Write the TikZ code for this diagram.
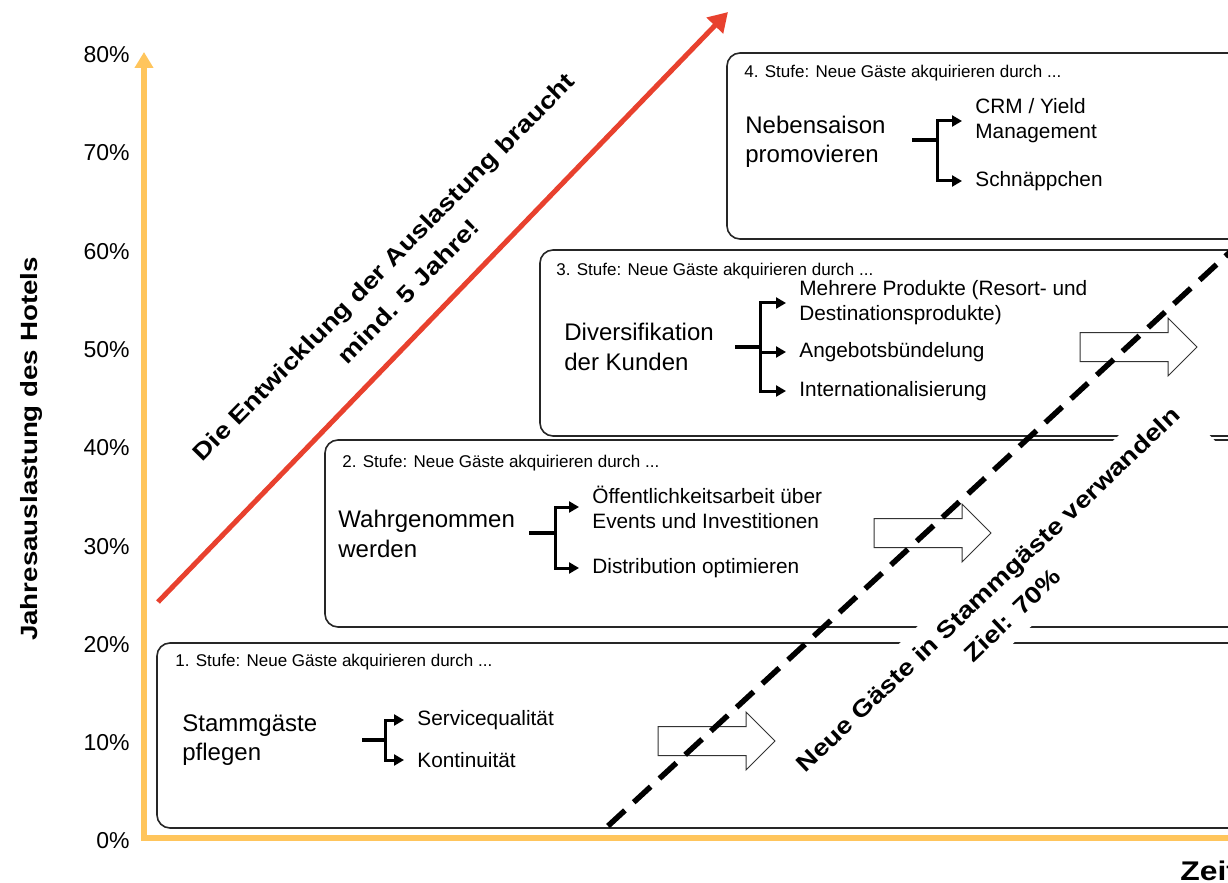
\documentclass[tikz,border=0pt]{standalone}
\usepackage{fontspec}
\setmainfont{Liberation Sans}
\newfontfamily\widebold{Liberation Sans}[FakeStretch=1.18]
\usetikzlibrary{arrows.meta}
\definecolor{axisorange}{HTML}{FFC55C}
\definecolor{trendred}{HTML}{E8412E}
\pgfdeclarelayer{bg}
\pgfsetlayers{bg,main}
\tikzset{
    stage/.style={draw=black!85, line width=0.8pt, rounded corners=6.5pt},
    stagetitle/.style={anchor=west, inner sep=0pt, font=\fontsize{8.5}{10}\selectfont},
    lead/.style={anchor=west, inner sep=0pt, align=left, font=\fontsize{12}{14.75}\selectfont},
    entry/.style={anchor=west, inner xsep=6.5pt, inner ysep=0pt, align=left, font=\fontsize{10.4}{12.5}\selectfont},
    trunk/.style={line width=1.6pt},
    branch/.style={line width=1.5pt, -{Triangle[length=5pt,width=5.5pt]}},
    blockarrow/.style={draw=black!80, line width=0.5pt, fill=white},
    pct/.style={anchor=east, inner sep=0pt, font=\fontsize{11.5}{13}\selectfont},
    bigbold/.style={inner sep=0pt, align=center, font=\widebold\bfseries\fontsize{11.75}{17.5}\selectfont}
}

\begin{document}
\begin{tikzpicture}[x=0.5pt, y=-0.5pt]
    \useasboundingbox (0,0) rectangle (1228,883);
    \clip (0,0) rectangle (1228,883);

    % axes
    \coordinate (o) at (144,838);
    \coordinate (ytop) at (144,52);
    \coordinate (xend) at (1244,838);
    \draw [axisorange, line width=2.9pt, {Triangle[length=8pt,width=9pt]}-{Triangle[length=8pt,width=9pt]}] (ytop) -- (o) -- (xend);
    \foreach \v [count=\i from 0] in {0,10,...,80}
        \node (p\v) [pct] at (130,841-98.3*\i) {\v\%};
    \node (ytitle) [bigbold, rotate=90] at (31,449) {Jahresauslastung des Hotels};
    \node (zeit) [bigbold, anchor=base west, font=\widebold\bfseries\fontsize{13.5}{16}\selectfont] at (1180,880) {Zeit};

    \begin{pgfonlayer}{bg}
        \draw [stage] (157,643) rectangle (1270,828);
        \draw [stage] (325,440) rectangle (1270,627);
        \draw [stage] (540,250) rectangle (1270,436);
        \draw [stage] (727,53) rectangle (1270,239);
    \end{pgfonlayer}

    % stage 1
    \node (h1) [stagetitle] at (175,662) {1. Stufe: Neue Gäste akquirieren durch ...};
    \node (m1) [lead] at (182,740) {Stammgäste\\pflegen};
    \node (s1a) [entry] at (404,720) {Servicequalität};
    \node (s1b) [entry] at (404,760) {Kontinuität};
    \coordinate (b1) at (362,740);
    \coordinate (j1) at (385,740);
    \draw [trunk] (b1) -- (j1);
    \draw [branch] (j1) |- (s1a.west);
    \draw [branch] (j1) |- (s1b.west);

    % stage 2
    \node (h2) [stagetitle] at (342,463) {2. Stufe: Neue Gäste akquirieren durch ...};
    \node (m2) [lead] at (338,534) {Wahrgenommen\\werden};
    \node (s2a) [entry] at (579,507) {Öffentlichkeitsarbeit über\\Events und Investitionen};
    \node (s2b) [entry] at (579,568) {Distribution optimieren};
    \coordinate (b2) at (529,533);
    \coordinate (j2) at (555,533);
    \draw [trunk] (b2) -- (j2);
    \draw [branch] (j2) |- (s2a.west);
    \draw [branch] (j2) |- (s2b.west);

    % stage 3
    \node (h3) [stagetitle] at (556,271) {3. Stufe: Neue Gäste akquirieren durch ...};
    \node (m3) [lead] at (564,347) {Diversifikation\\der Kunden};
    \node (s3a) [entry] at (786,303) {Mehrere Produkte (Resort- und\\Destinationsprodukte)};
    \node (s3b) [entry] at (786,352) {Angebotsbündelung};
    \node (s3c) [entry] at (786,391) {Internationalisierung};
    \coordinate (b3) at (735,347);
    \coordinate (j3) at (760,347);
    \draw [trunk] (b3) -- (j3);
    \draw [branch] (j3) |- (s3a.west);
    \draw [branch] (j3) |- (s3b.west);
    \draw [branch] (j3) |- (s3c.west);

    % stage 4
    \node (h4) [stagetitle] at (744,73) {4. Stufe: Neue Gäste akquirieren durch ...};
    \node (m4) [lead] at (745,142) {Nebensaison\\promovieren};
    \node (s4a) [entry] at (962,121) {CRM / Yield\\Management};
    \node (s4b) [entry] at (962,181) {Schnäppchen};
    \coordinate (b4) at (912,140);
    \coordinate (j4) at (937,140);
    \draw [trunk] (b4) -- (j4);
    \draw [branch] (j4) |- (s4a.west);
    \draw [branch] (j4) |- (s4b.west);

    % block arrows
    \foreach \l/\c in {658/741, 874/533, 1080/347}
        \draw [blockarrow] (\l,\c-14.5) -- ++(88,0) -- ++(0,-14.5) -- ++(29,29) -- ++(-29,29) -- ++(0,-14.5) -- ++(-88,0) -- cycle;

    % diagonals
    \coordinate (d0) at (608,826);
    \coordinate (d1) at (1242,241);
    \draw [line width=2.75pt, dash pattern=on 11.5pt off 6pt] (d0) -- (d1);
    \coordinate (r0) at (158,602);
    \coordinate (r1) at (728,12);
    \draw [trendred, line width=2.5pt, -{Triangle[length=9.5pt,width=11pt]}] (r0) -- (r1);

    \node (trend) [bigbold, rotate=45.5] at (396,279) {Die Entwicklung der Auslastung braucht\\mind. 5 Jahre!};
    \node (goal) [bigbold, rotate=43.5, fill=white, inner xsep=4pt, inner ysep=6.5pt] at (1000,602) {Neue Gäste in Stammgäste verwandeln\\Ziel: 70\%};
\end{tikzpicture}
\end{document}
